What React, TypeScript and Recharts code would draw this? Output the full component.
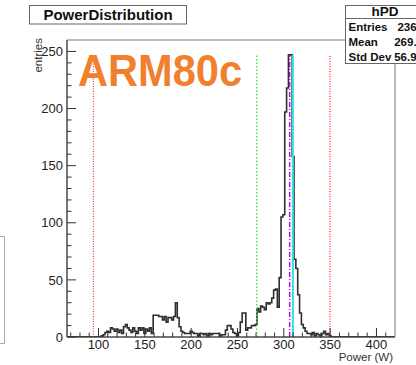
import React from 'react';
import { ComposedChart, Line, XAxis, YAxis, ReferenceLine, ReferenceArea } from 'recharts';

// hPD histogram: 2 W bins, first bin starts at 67 W
const FIRST_BIN = 67;
const BIN_WIDTH = 2;

const countsBelow = [0, 0, 0, 0, 0, 0, 0, 0, 0, 0, 0, 0, 0, 0, 0, 0, 0]; // 67 - 99
const countsLow = [
  0, 1, 2, 4, 5, 4, 8, 7, 5, 7, // 101 - 119
  4, 6, 3, 9, 11, 8, 6, 4, 8, 5, // 121 - 139
  3, 8, 6, 8, 3, 7, 5, 8, 3, 19, // 141 - 159
  19, 19, 18, 18, 15, 18, 13, 17, 17, 15, // 161 - 179
  18, 30, 17, 9, 5, 4, 3, 3, 3, 5, // 181 - 199
];
const countsMid = [
  4, 3, 3, 1, 3, 3, 2, 3, 1, 3, // 201 - 219
  2, 3, 3, 3, 3, 1, 2, 2, 6, 10, // 221 - 239
  10, 7, 4, 3, 1, 4, 13, 21, 21, 6, // 241 - 259
  8, 8, 10, 10, 11, // 261 - 269
];
const countsRise = [25, 22, 27, 26, 24, 30, 29, 30, 34, 41, 42, 26, 52]; // 271 - 295
const countsPeak = [105, 107, 197, 218, 247, 247, 158]; // 297 - 309
const countsTail = [
  68, 60, 37, 21, 11, 8, 5, 3, 3, 2, // 311 - 329
  4, 1, 3, 2, 1, 3, 5, 2, 3, 1, 0, // 331 - 351
];
const countsAbove = [
  0, 0, 0, 0, 0, 0, 0, 0, 0, 0, 0, 0, 0, 0, 0, 0, 0, // 353 - 385
  0, 0, 0, 0, 0, 0, 0, 0, 0, 0, 0, 0, 0, 0, 0, 0, // 387 - 417
];

const xTicks = [70, 80, 90, 100, 110, 120, 130, 140, 150, 160, 170, 180, 190, 200, 210, 220, 230, 240,
  250, 260, 270, 280, 290, 300, 310, 320, 330, 340, 350, 360, 370, 380, 390, 400, 410];
const yTicks = [0, 10, 20, 30, 40, 50, 60, 70, 80, 90, 100, 110, 120, 130, 140, 150, 160, 170, 180,
  190, 200, 210, 220, 230, 240, 250];

// vertical markers (W)
const markerPower = [94.5, 270.7, 306.3, 309.8, 349.8];
const markerColor = ['#ff3b3b', '#3ee83e', '#b800ee', '#2fe0ee', '#ff3b3b'];
const markerDash = ['1 1.5', '1.5 2', '5 2 1 2', '', '1 1.5'];
const markerWidth = [1.2, 1.4, 1.4, 2, 1.4];

const statLabels = ['Entries', 'Mean', 'Std Dev'];
const statValues = ['2363', '269.6', '56.97'];

const FONT = '"Liberation Sans", Arial, Helvetica, sans-serif';
const INK = '#333';

const counts = [...countsBelow, ...countsLow, ...countsMid, ...countsRise, ...countsPeak, ...countsTail, ...countsAbove];
const histData = counts.map((c, i) => ({ power: FIRST_BIN + i * BIN_WIDTH, count: c }));
histData.push({ power: FIRST_BIN + counts.length * BIN_WIDTH, count: 0 });
const peak = Math.max(...counts);

const YTick = (props: any) => {
  const { x, y, payload } = props;
  const major = payload.value % 50 === 0;
  const axisX = x + 4;
  return (
    <g>
      <line x1={axisX} x2={axisX + (major ? 9 : 4.5)} y1={y} y2={y} stroke={INK} strokeWidth={1} />
      {major && (
        <text x={x} y={y} dy="0.36em" textAnchor="end" fontFamily={FONT} fontSize={13} fill="#222">
          {payload.value}
        </text>
      )}
    </g>
  );
};

const XTick = (props: any) => {
  const { x, y, payload } = props;
  const major = payload.value % 50 === 0;
  const axisY = y - 3;
  return (
    <g>
      <line x1={x} x2={x} y1={axisY} y2={axisY - (major ? 9 : 4.5)} stroke={INK} strokeWidth={1} />
      {major && (
        <text x={x} y={axisY + 12} textAnchor="middle" fontFamily={FONT} fontSize={13} fill="#222">
          {payload.value}
        </text>
      )}
    </g>
  );
};

export default function App() {
  return (
    <div style={{ position: 'fixed', left: 0, top: 0, width: 416, height: 365, overflow: 'hidden', background: '#fff' }}>
      <ComposedChart width={416} height={365} data={histData} margin={{ top: 40, right: 21, bottom: 0, left: 7 }}>
        <XAxis
          dataKey="power"
          type="number"
          domain={[66, 420]}
          ticks={xTicks}
          interval={0}
          tickSize={0}
          tickLine={false}
          tickMargin={3}
          height={28}
          axisLine={{ stroke: INK }}
          tick={<XTick />}
          allowDataOverflow
        />
        <YAxis
          type="number"
          domain={[0, 260]}
          ticks={yTicks}
          interval={0}
          tickSize={0}
          tickLine={false}
          tickMargin={4}
          width={60}
          axisLine={{ stroke: INK }}
          tick={<YTick />}
          allowDataOverflow
        />
        <ReferenceArea x1={66} x2={420} y1={0} y2={260} fill="none" stroke="#777" strokeWidth={1} />
        <Line
          dataKey="count"
          type="stepAfter"
          stroke="#2e2e2e"
          strokeWidth={1.6}
          dot={false}
          isAnimationActive={false}
        />
        {markerPower.map((p, i) => (
          <ReferenceLine
            key={i}
            segment={[{ x: p, y: 0 }, { x: p, y: peak }]}
            stroke={markerColor[i]}
            strokeWidth={markerWidth[i]}
            strokeDasharray={markerDash[i] || undefined}
          />
        ))}
      </ComposedChart>

      <svg width={416} height={365} style={{ position: 'absolute', left: 0, top: 0, pointerEvents: 'none' }}>
        {/* edge of the neighbouring pad */}
        <polyline points="0,236.5 4.5,236.5 4.5,343.5 0,343.5" fill="none" stroke="#aaa" strokeWidth={1} />

        {/* title box */}
        <rect x={29.5} y={5.5} width={157} height={18.5} fill="#fff" stroke="#666" strokeWidth={1} />
        <text x={108} y={20} textAnchor="middle" fontFamily={FONT} fontWeight="bold" fontSize={15} fill="#111">
          PowerDistribution
        </text>

        {/* stats box */}
        <rect x={345.5} y={5.5} width={80} height={58} fill="#fff" stroke="#666" strokeWidth={1} />
        <line x1={345.5} x2={416} y1={18.5} y2={18.5} stroke="#666" strokeWidth={1} />
        <text x={385} y={16} textAnchor="middle" fontFamily={FONT} fontWeight="bold" fontSize={13.5} fill="#111">
          hPD
        </text>
        {statLabels.map((s, i) => (
          <g key={s}>
            <text x={348.5} y={31 + i * 14.8} fontFamily={FONT} fontWeight="bold" fontSize={11.5} fill="#111">
              {s}
            </text>
            <text x={423} y={31 + i * 14.8} textAnchor="end" fontFamily={FONT} fontWeight="bold" fontSize={11.5} fill="#111">
              {statValues[i]}
            </text>
          </g>
        ))}

        <text
          x={78}
          y={86}
          fontFamily={FONT}
          fontWeight="bold"
          fontSize={45}
          fill="#f0802e"
          textLength={164}
          lengthAdjust="spacingAndGlyphs"
        >
          ARM80c
        </text>

        <text
          x={41.5}
          y={38}
          transform="rotate(-90 41.5 38)"
          textAnchor="end"
          fontFamily={FONT}
          fontSize={11.5}
          fill="#333"
        >
          entries
        </text>
        <text x={393} y={360.5} textAnchor="end" fontFamily={FONT} fontSize={11.5} fill="#333">
          Power (W)
        </text>
      </svg>
    </div>
  );
}
